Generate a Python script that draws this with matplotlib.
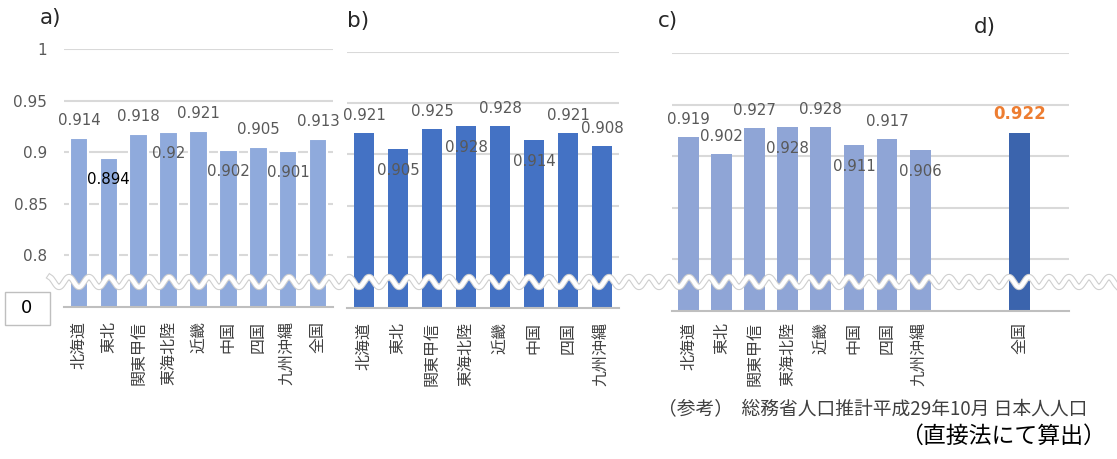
import numpy as np
import matplotlib.pyplot as plt
from matplotlib.lines import Line2D
from matplotlib.patches import Rectangle

plt.rcParams['font.family'] = ['Noto Sans CJK JP', 'DejaVu Sans']

regions = ['北海道', '東北', '関東甲信', '東海北陸', '近畿', '中国', '四国', '九州沖縄']
regions_a = regions + ['全国']
values_a = [0.914, 0.894, 0.918, 0.92, 0.921, 0.902, 0.905, 0.901, 0.913]
values_b = [0.921, 0.905, 0.925, 0.928, 0.928, 0.914, 0.921, 0.908]
values_c = [0.919, 0.902, 0.927, 0.928, 0.928, 0.911, 0.917, 0.906]
value_d = 0.922
label_d = '全国'
yticks = [0.8, 0.85, 0.9, 0.95, 1.0]

# where each data label sits relative to its bar
above_a = [True, False, True, False, True, False, True, False, True]
above_b = [True, False, True, False, True, False, True, True]
above_c = [True, True, True, False, True, False, True, False]

W, H = 1117, 459
fig = plt.figure(figsize=(W / 100, H / 100), dpi=100)
grey_txt = '#595959'
num_font = 'DejaVu Sans'


def px_axes(x0, x1, ytop, ybot):
    return fig.add_axes([x0 / W, 1 - ybot / H, (x1 - x0) / W, (ybot - ytop) / H])


def style(ax, n, pad):
    ax.set_xlim(-0.5, n - 0.5)
    ax.set_ylim(0.75, 1.0)
    ax.set_yticks(yticks)
    ax.set_axisbelow(True)
    ax.grid(axis='y', color='#D9D9D9', lw=1.5)
    for s in ['top', 'right', 'left']:
        ax.spines[s].set_visible(False)
    ax.spines['bottom'].set_color('#BFBFBF')
    ax.spines['bottom'].set_linewidth(1.5)
    ax.tick_params(axis='x', length=0, pad=pad, labelsize=11.5, labelcolor='#404040')
    ax.tick_params(axis='y', length=0)


def put_labels(ax, xs, vals, above, color=grey_txt, **kw):
    for x, v, up in zip(xs, vals, above):
        ax.annotate(f'{v:g}', (x, v), xytext=(0, 12.5 if up else -15.5),
                    textcoords='offset points', ha='center', va='center',
                    fontsize=10.8, color=color, family=num_font, **kw)


def title(ax, x, y, s):
    ax.text(x, y, s, transform=ax.transAxes, fontsize=15.5, va='center',
            family=num_font, color='#262626')


# a)
ax_a = px_axes(64, 333, 49, 307)
style(ax_a, len(values_a), 10)
xa = np.arange(len(values_a))
ax_a.bar(xa, values_a, width=0.62, color='#8FAADC', edgecolor='white', lw=1.5)
ax_a.set_xticks(xa, regions_a, rotation=90, va='top')
ax_a.set_yticklabels([f'{t:g}' for t in yticks], family=num_font)
ax_a.tick_params(axis='y', pad=12, labelsize=11, labelcolor=grey_txt)
for i in range(len(values_a)):
    put_labels(ax_a, [xa[i]], [values_a[i]], [above_a[i]],
               color='black' if i == 1 else grey_txt)
title(ax_a, -0.09, 1.12, 'a)')

# b)
ax_b = px_axes(347, 619, 52, 308)
style(ax_b, len(values_b), 10)
xb = np.arange(len(values_b))
ax_b.bar(xb, values_b, width=0.6, color='#4472C4')
ax_b.set_xticks(xb, regions, rotation=90, va='top')
ax_b.set_yticklabels([])
put_labels(ax_b, xb, values_b, above_b)
title(ax_b, 0.0, 1.12, 'b)')

# c) and d) share one axis
ax_c = px_axes(672, 1069, 53, 311)
n_slots = 12
d_pos = 10
style(ax_c, n_slots, 8)
xc = np.arange(len(values_c))
ax_c.bar(xc, values_c, width=0.63, color='#8FA5D6')
ax_c.bar([d_pos], [value_d], width=0.63, color='#3B64AD')
ax_c.set_xticks(list(xc) + [d_pos], regions + [label_d], rotation=90, va='top')
ax_c.set_yticklabels([])
put_labels(ax_c, xc, values_c, above_c)
ax_c.annotate(f'{value_d:g}', (d_pos, value_d), xytext=(0, 14), textcoords='offset points',
              ha='center', va='center', fontsize=12, color='#ED7D31', fontweight='bold',
              family=num_font)
title(ax_c, -0.035, 1.125, 'c)')
title(ax_c, 0.76, 1.1, 'd)')

# boxed zero at the broken end of the axis
fig.add_artist(Rectangle((5 / W, 1 - 325 / H), 45 / W, 33 / H, transform=fig.transFigure,
                         facecolor='white', edgecolor='#BFBFBF', lw=1))
fig.text(27 / W, 1 - 308 / H, '0', ha='center', va='center', fontsize=13, family=num_font)

# wavy break mark across all panels
wx = np.linspace(50, 1117, 1200)
wy = 282 + 5 * np.cos(2 * np.pi * (wx - 79) / 20)
fx, fy = wx / W, 1 - wy / H
fig.add_artist(Line2D(fx, fy, transform=fig.transFigure, color='#CFCFCF', lw=4.6))
fig.add_artist(Line2D(fx, fy, transform=fig.transFigure, color='white', lw=3.0))

fig.text(658 / W, 1 - 410 / H, '（参考）  総務省人口推計平成29年10月 日本人人口',
         fontsize=13.5, color='#404040', va='center')
fig.text(1106 / W, 1 - 436 / H, '（直接法にて算出）', fontsize=16.5, color='black',
         ha='right', va='center')

fig.savefig('out.png', dpi=100)
